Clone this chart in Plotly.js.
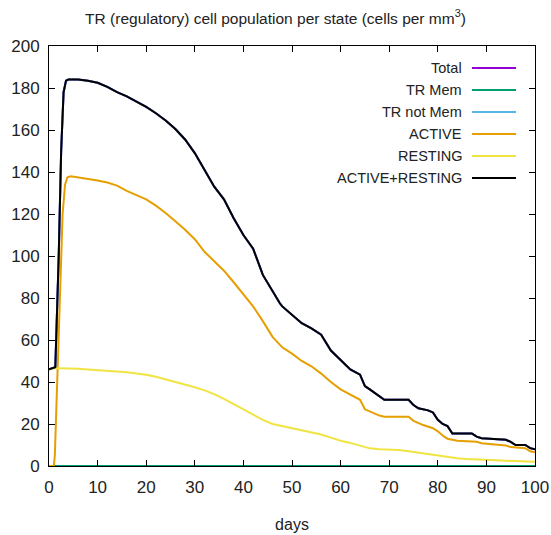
<!DOCTYPE html>
<html>
<head>
<meta charset="utf-8">
<script src="https://cdn.plot.ly/plotly-3.0.1.min.js"></script>
<style>html,body{margin:0;padding:0;background:#fff;}#chart{width:551px;height:535px;}</style>
</head>
<body>
<div id="chart"></div>
<script>
// ---- data ----
const daysAR = [0,1,1.3,2,2.5,3,3.5,4,6,8,10,12,14,16,18,20,22,24,26,28,30,32,34,36,38,40,42,44,46,47.5,48,50,52,54,56,58,60,62,64,65,66,68,69,74,75,76,78,79,80,81,82,83,87,88,89,94,95,96,98,99,100];
const activeResting = [46,46.5,47,100,150,178,183.5,184,184,183.5,182.5,180.5,178,176,173.5,171,168,164.5,160.5,155.5,149,141,133,127,118,110,103.5,91,83,77.5,76,72,68,65.5,62.5,55,50.5,46,43.5,38,36.5,33,31.5,31.5,29,27.5,26.5,25.5,22,20,19,15.5,15.5,14,13.2,12.5,11.5,10,10,8.5,8];

const daysActive = [0,1,1.2,2.3,2.8,3.3,3.8,4.5,6,8,10,12,14,16,18,20,22,24,26,28,30,32,34,36,38,40,42,44,46,48,50,52,54,56,58,60,62,64,65,66,68,69,74,75,77,79,80,81,82,84,88,89,94,95,98,99,100];
const active = [0,0,5,85,120,134,137.5,138,137.5,136.5,136,135,133.5,131,129,127,124,120.5,116.5,112.5,108,102,97.5,93,87.5,82,76,69,61.5,56.5,53.5,50,47.5,44,40,36.5,34,31.5,27,26,24,23.5,23.5,21.5,19.5,18,16.5,14.5,13,12,11.5,10.8,9.8,9,8.5,7,6.5];

const daysResting = [0,1,2,4,6,8,10,12,14,16,18,20,22,24,26,28,30,32,34,36,38,40,42,44,46,48,50,52,54,56,58,60,62,64,66,68,70,72,74,76,78,80,82,84,86,88,90,92,94,96,98,100];
const resting = [46,46.5,46.5,46.5,46.3,46,45.7,45.3,45,44.6,44.1,43.5,42.5,41.3,40,38.8,37.5,36,34.2,32,29.5,27,24.5,22,20,19,18,17,16,15,13.5,12,11,9.8,8.4,8,7.8,7.6,7,6.3,5.6,5,4.3,3.7,3.3,3,2.9,2.7,2.5,2.3,2.1,2];

const daysMem = [0,100];
const trMem = [0,0];

const seriesNames = ["Total","TR Mem","TR not Mem","ACTIVE","RESTING","ACTIVE+RESTING"];
const seriesColors = ["#9400d3","#009e73","#56b4e9","#e69f00","#f0e442","#000000"];
const xTicks = [0,10,20,30,40,50,60,70,80,90,100];
const yTicks = [0,20,40,60,80,100,120,140,160,180,200];

// ---- build traces ----
const seriesX = [daysAR, daysMem, daysAR, daysActive, daysResting, daysAR];
const seriesY = [activeResting, trMem, activeResting, active, resting, activeResting];
const traces = seriesNames.map((n,i)=>({
  type:'scatter', mode:'lines', name:n, x:seriesX[i], y:seriesY[i],
  line:{color:seriesColors[i], width:2}, showlegend:false, hoverinfo:'skip'
}));

// manual legend (text right, sample line on the right), paper coords
const FONT = "Liberation Sans, Arial, sans-serif";
const annotations = [];
const shapes = [];
const px2x = p => (p-49)/486;
const px2y = p => (466-p)/420;
seriesNames.forEach((n,i)=>{
  const yy = px2y(68 + i*22);
  annotations.push({xref:'paper', yref:'paper', x:px2x(464), y:yy, xanchor:'right', yanchor:'middle',
    text:n, showarrow:false, font:{family:FONT, size:14.5, color:'#222'}});
  shapes.push({type:'line', xref:'paper', yref:'paper', x0:px2x(472), x1:px2x(516), y0:yy, y1:yy,
    line:{color:seriesColors[i], width:2}});
});

const layout = {
  width:551, height:535,
  margin:{l:49, r:16, t:46, b:69},
  paper_bgcolor:'#fff', plot_bgcolor:'#fff',
  font:{family:FONT, size:17, color:'#222'},
  title:{text:'TR (regulatory) cell population per state (cells per mm<sup>3</sup>)', x:0.5, xref:'container', xanchor:'center', y:0.966, yanchor:'middle', font:{family:FONT, size:15.5, color:'#222'}},
  xaxis:{range:[0,100], tickvals:xTicks, ticks:'inside', ticklen:6, tickcolor:'#000', showline:true, linecolor:'#000', linewidth:1, mirror:'ticks', showgrid:false, zeroline:false,
    ticklabelstandoff:6,
    title:{text:'days', font:{family:FONT, size:16, color:'#222'}, standoff:22}, tickfont:{family:FONT, size:17, color:'#222'}},
  yaxis:{range:[0,200], tickvals:yTicks, ticks:'inside', ticklen:6, tickcolor:'#000', showline:true, linecolor:'#000', linewidth:1, mirror:'ticks', showgrid:false, zeroline:false,
    ticklabelstandoff:5,
    tickfont:{family:FONT, size:17, color:'#222'}},
  showlegend:false,
  annotations, shapes
};
Plotly.newPlot('chart', traces, layout, {displayModeBar:false, staticPlot:true});
</script>
</body>
</html>
